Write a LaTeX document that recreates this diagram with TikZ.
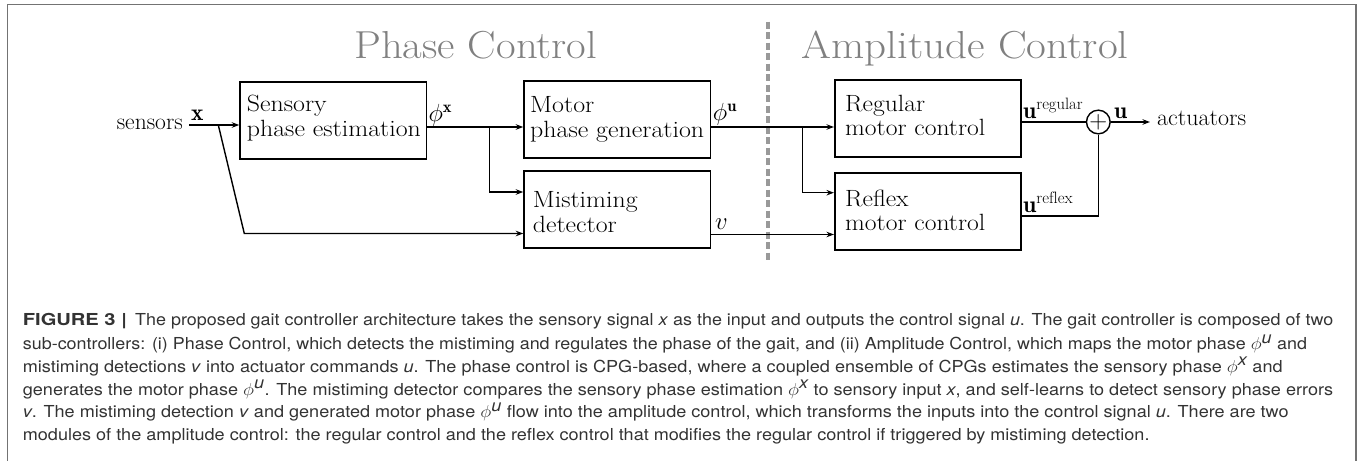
\documentclass[tikz,border=0pt]{standalone}
\usepackage{fontspec}
\usepackage{graphicx}
\usetikzlibrary{arrows.meta}
\newfontfamily\capfont{TeX Gyre Heros}
\newcommand\fitw[2]{\resizebox{#1}{\height}{#2}}
\newcommand\twol[4]{\fitw{#1}{\vtop{\baselineskip=#2\lineskiplimit=-200bp\hbox{#3}\hbox{#4}}}}
\newcommand\bfnt{\fontsize{23.5bp}{25bp}\selectfont}
\tikzset{
 blk/.style={draw, line width=1.6bp, minimum width=186.5bp, minimum height=77bp, inner sep=0pt},
 txt/.style={inner sep=0pt, anchor=base west, font=\bfnt},
 arr/.style={line width=1.4bp, -{Stealth[length=7.5bp,width=5.5bp]}},
 ln/.style={line width=1.4bp},
 ttl/.style={inner sep=0pt, anchor=base west, text=black!50, font=\fontsize{39bp}{42bp}\selectfont},
 captxt/.style={inner sep=0pt, anchor=base west, text=black!80, font=\capfont\fontsize{16.5bp}{18bp}\selectfont},
 dsh/.style={draw=black!40, line width=4bp, dash pattern=on 7bp off 3.5bp},
 frm/.style={draw=black!55, line width=1.5bp},
}
\begin{document}
\begin{tikzpicture}[x=1bp,y=-1bp]
\useasboundingbox (0,0) rectangle (1363,461);
% frame
\coordinate (f1) at (7.3,461);
\coordinate (f2) at (7.3,4.7);
\coordinate (f3) at (1356,4.7);
\coordinate (f4) at (1356,461);
\draw[frm] (f1) -- (f2) -- (f3) -- (f4);
% titles
\node[ttl] (pc) at (354,58.3) {\fitw{243bp}{Phase Control}};
\node[ttl] (ac) at (801.7,58.3) {\fitw{326.6bp}{Amplitude Control}};
% dashed separator
\coordinate (d1) at (768.3,21.7);
\coordinate (d2) at (768.3,261.7);
\draw[dsh] (d1) -- (d2);
% boxes
\node[blk] (sens) at (333.3,120.3) {};
\node[blk] (motor) at (617.3,119.5) {};
\node[blk] (mist) at (617.3,209.5) {};
\node[blk] (reg) at (928,118.5) {};
\node[blk] (refl) at (928,211.5) {};
\node[txt] (sensT) at (246.7,111.7) {\twol{174bp}{25bp}{Sensory}{phase estimation}};
\node[txt] (motorT) at (530,112.5) {\twol{174bp}{25bp}{Motor}{phase generation}};
\node[txt] (mistT) at (532.7,207.5) {\twol{104.7bp}{24.5bp}{Mistiming}{detector}};
\node[txt] (regT) at (845,111.2) {\twol{140bp}{24.5bp}{Regular}{motor control}};
\node[txt] (reflT) at (845,206.5) {\twol{140bp}{24.5bp}{Reflex}{motor control}};
% sum
\node[draw, circle, line width=1.4bp, minimum size=23.4bp, inner sep=0pt, font=\fontsize{25bp}{26bp}\selectfont] (sum) at (1098.3,122) {$+$};
% terminals
\node[txt, anchor=base east, inner xsep=6bp] (sensors) at (189,130) {\fitw{66bp}{sensors}};
\node[txt, inner xsep=7bp] (act) at (1150,126) {\fitw{89bp}{actuators}};
% connectors
\coordinate (j1) at (218.3,125);
\coordinate (j1b) at (244.3,233.5);
\draw[arr] (sensors.east |- j1) -- (sens.west |- j1);
\draw[arr] (j1) -- (j1b) -- (mist.west |- j1b);
\coordinate (j2) at (489.3,127);
\coordinate (j3) at (489.3,192);
\draw[arr] (sens.east |- j2) -- (motor.west |- j2);
\draw[arr] (j2) -- (j3) -- (mist.west |- j3);
\coordinate (j4) at (802.7,127);
\coordinate (j5) at (802.7,192.7);
\draw[arr] (motor.east |- j4) -- (reg.west |- j4);
\draw[arr] (j4) -- (j5) -- (refl.west |- j5);
\coordinate (j6) at (760,234.5);
\draw[arr] (mist.east |- j6) -- (refl.west |- j6);
\draw[ln] (reg.east |- sum) -- (sum);
\coordinate (j7) at (1098.3,216);
\draw[ln] (refl.east |- j7) -- (j7) -- (sum);
\draw[arr] (sum) -- (act.west |- sum);
% labels
\node[txt] (xl) at (191,121) {$\mathbf{x}$};
\node[txt] (phx) at (428.3,121.5) {$\phi^{\mathbf{x}}$};
\node[txt] (phu) at (712.7,120.5) {$\phi^{\mathbf{u}}$};
\node[txt] (vl) at (715,230) {$v$};
\node[txt] (ureg) at (1023,118.5) {\fitw{60bp}{$\mathbf{u}^{\mathrm{regular}}$}};
\node[txt] (urefl) at (1023,212.5) {\fitw{50bp}{$\mathbf{u}^{\mathrm{reflex}}$}};
\node[txt] (uo) at (1114,119) {$\mathbf{u}$};
% caption
\node[captxt] (c0) at (22.7,326) {\fitw{104bp}{\textbf{FIGURE 3 |}}};
\node[captxt] (c1) at (135,326) {\fitw{1198bp}{The proposed gait controller architecture takes the sensory signal \textit{x} as the input and outputs the control signal \textit{u}. The gait controller is composed of two}};
\node[captxt] (c2) at (22.7,349.3) {\fitw{1284bp}{sub-controllers: (i) Phase Control, which detects the mistiming and regulates the phase of the gait, and (ii) Amplitude Control, which maps the motor phase $\phi^{\textit{u}}$ and}};
\node[captxt] (c3) at (22.7,372) {\fitw{1259.6bp}{mistiming detections \textit{v} into actuator commands \textit{u}. The phase control is CPG-based, where a coupled ensemble of CPGs estimates the sensory phase $\phi^{\textit{x}}$ and}};
\node[captxt] (c4) at (22.7,395) {\fitw{1310.3bp}{generates the motor phase $\phi^{\textit{u}}$. The mistiming detector compares the sensory phase estimation $\phi^{\textit{x}}$ to sensory input \textit{x}, and self-learns to detect sensory phase errors}};
\node[captxt] (c5) at (22.7,417.7) {\fitw{1265.6bp}{\textit{v}. The mistiming detection \textit{v} and generated motor phase $\phi^{\textit{u}}$ flow into the amplitude control, which transforms the inputs into the control signal \textit{u}. There are two}};
\node[captxt] (c6) at (22.7,440.7) {\fitw{1126.6bp}{modules of the amplitude control: the regular control and the reflex control that modifies the regular control if triggered by mistiming detection.}};
\end{tikzpicture}
\end{document}
